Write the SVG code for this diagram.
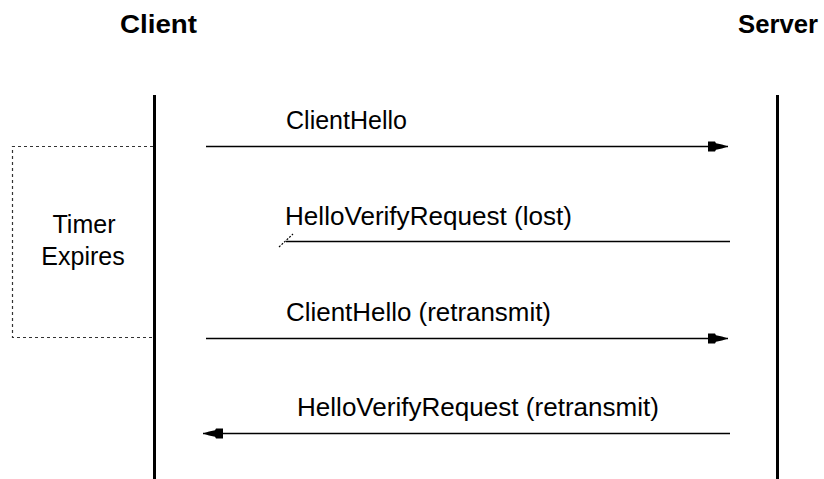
<svg xmlns="http://www.w3.org/2000/svg" width="824" height="479" viewBox="0 0 824 479">
<style>
.t{font-family:"Liberation Sans",Arial,sans-serif;font-size:25px;fill:#000}
.h{font-family:"Liberation Sans",Arial,sans-serif;font-size:25px;font-weight:bold;fill:#000}
.life{stroke:#000;stroke-width:3}
.msg{stroke:#000;stroke-width:1.3;fill:none}
</style>
<defs>
<marker id="ah" markerUnits="userSpaceOnUse" viewBox="-21 -6 22 12" refX="0" refY="0" markerWidth="22" markerHeight="12" orient="auto">
<path d="M0,0 L-6,-2 L-12,-3.2 L-13,-5 L-20,-5 L-20,5 L-13,5 L-12,3.2 L-6,2 Z" fill="#000"/>
</marker>
</defs>
<rect width="824" height="479" fill="#fff"/>
<g id="client">
<text class="h" x="120" y="33" textLength="77" lengthAdjust="spacingAndGlyphs">Client</text>
<line class="life" x1="154.5" y1="95" x2="154.5" y2="479"/>
</g>
<g id="server">
<text class="h" x="738" y="33" textLength="80" lengthAdjust="spacingAndGlyphs">Server</text>
<line class="life" x1="777.5" y1="95" x2="777.5" y2="479"/>
</g>
<g id="timer">
<path d="M153,146.5 H12.5 V337.5 H153" fill="none" stroke="#333" stroke-width="1.2" stroke-dasharray="3,3"/>
<text class="t" x="84" y="233" text-anchor="middle">Timer</text>
<text class="t" x="83" y="265" text-anchor="middle">Expires</text>
</g>
<g id="connectors">
<line class="msg" x1="206" y1="146.5" x2="728" y2="146.5" marker-end="url(#ah)"/>
<line class="msg" x1="730" y1="241.5" x2="286" y2="241.5"/>
<line stroke="#000" stroke-width="1.2" stroke-dasharray="2,1.5" x1="279" y1="247" x2="293" y2="234"/>
<line class="msg" x1="206" y1="338.5" x2="728" y2="338.5" marker-end="url(#ah)"/>
<line class="msg" x1="730" y1="433.5" x2="203" y2="433.5" marker-end="url(#ah)"/>
</g>
<g id="labels">
<text class="t" x="286" y="129" textLength="121" lengthAdjust="spacingAndGlyphs">ClientHello</text>
<text class="t" x="285" y="225" textLength="287" lengthAdjust="spacingAndGlyphs">HelloVerifyRequest (lost)</text>
<text class="t" x="286" y="321" textLength="265" lengthAdjust="spacingAndGlyphs">ClientHello (retransmit)</text>
<text class="t" x="297" y="416" textLength="362" lengthAdjust="spacingAndGlyphs">HelloVerifyRequest (retransmit)</text>
</g>
</svg>
